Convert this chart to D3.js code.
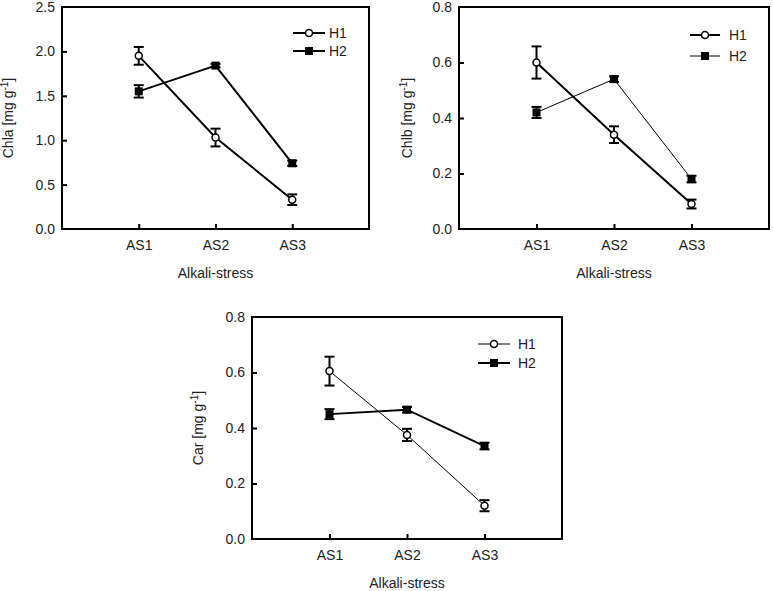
<!DOCTYPE html>
<html><head><meta charset="utf-8">
<script src="https://cdn.jsdelivr.net/npm/d3@7"></script>
<style>body{margin:0;background:#fff}svg{display:block}text{font-family:"Liberation Sans",Arial,sans-serif;fill:#222}</style>
</head><body>
<script>
const categories = ["AS1","AS2","AS3"];
const seriesNames = ["H1","H2"];
const chlaH1 = [1.95,1.03,0.33], chlaH1Err = [0.10,0.10,0.06];
const chlaH2 = [1.55,1.84,0.74], chlaH2Err = [0.07,0.02,0.03];
const chlbH1 = [0.60,0.34,0.09], chlbH1Err = [0.058,0.03,0.016];
const chlbH2 = [0.42,0.54,0.18], chlbH2Err = [0.02,0.01,0.012];
const carH1 = [0.605,0.375,0.12], carH1Err = [0.052,0.022,0.02];
const carH2 = [0.45,0.466,0.335], carH2Err = [0.018,0.01,0.012];
const ticksA = [0,0.5,1.0,1.5,2.0,2.5];
const ticksB = [0,0.2,0.4,0.6,0.8];

const svg = d3.select("body").append("svg").attr("width",773).attr("height",591);

const panels = [
  {x0:62,x1:369,y0:7,y1:229,ymax:2.5,ticks:ticksA,label:"Chla",h1:chlaH1,e1:chlaH1Err,h2:chlaH2,e2:chlaH2Err,w1:2,w2:2,yoff:49,
   leg:{lx1:-76,lx2:-44,tx:-40,yH1:26,yH2:44}},
  {x0:459,x1:769,y0:7,y1:229,ymax:0.8,ticks:ticksB,label:"Chlb",h1:chlbH1,e1:chlbH1Err,h2:chlbH2,e2:chlbH2Err,w1:2,w2:1,yoff:47,
   leg:{lx1:-79,lx2:-49,tx:-40,yH1:28,yH2:49}},
  {x0:252,x1:562,y0:317,y1:539,ymax:0.8,ticks:ticksB,label:"Car",h1:carH1,e1:carH1Err,h2:carH2,e2:carH2Err,w1:1,w2:2,yoff:49,
   leg:{lx1:-84,lx2:-52,tx:-44,yH1:27,yH2:46}}
];

panels.forEach(p=>{
  const g = svg.append("g");
  const x = d3.scaleLinear().domain([0,4]).range([p.x0,p.x1]);
  const y = d3.scaleLinear().domain([0,p.ymax]).range([p.y1,p.y0]);
  const xa = g.append("g").attr("transform",`translate(0,${p.y1})`)
    .call(d3.axisBottom(x).tickValues([1,2,3]).tickFormat((d)=>categories[d-1]).tickSizeInner(-5).tickSizeOuter(0).tickPadding(11));
  const ya = g.append("g").attr("transform",`translate(${p.x0},0)`)
    .call(d3.axisLeft(y).tickValues(p.ticks).tickFormat(d3.format(".1f")).tickSizeInner(-5).tickSizeOuter(0).tickPadding(7));
  [xa,ya].forEach(a=>{
    a.select(".domain").remove();
    a.selectAll(".tick line").attr("stroke","#000").attr("stroke-width",2);
    a.selectAll(".tick text").attr("font-size",14).attr("fill","#222").style("font-family",'"Liberation Sans",Arial,sans-serif');
  });
  ya.selectAll(".tick").filter(d=>d===0||d===p.ymax).select("line").remove();
  g.append("rect").attr("x",p.x0).attr("y",p.y0).attr("width",p.x1-p.x0).attr("height",p.y1-p.y0)
    .attr("fill","none").attr("stroke","#000").attr("stroke-width",2);
  g.append("text").attr("x",(p.x0+p.x1)/2).attr("y",p.y1+49).attr("text-anchor","middle").attr("font-size",14).text("Alkali-stress");
  const yt = g.append("text").attr("transform",`translate(${p.x0-p.yoff},${(p.y0+p.y1)/2}) rotate(-90)`)
    .attr("text-anchor","middle").attr("font-size",14);
  yt.append("tspan").text(p.label+" [mg g");
  yt.append("tspan").attr("dy",-5).attr("font-size",10).text("-1");
  yt.append("tspan").attr("dy",5).text("]");
  const series = [
    {v:p.h1,e:p.e1,w:p.w1,open:true},
    {v:p.h2,e:p.e2,w:p.w2,open:false}
  ];
  series.forEach(s=>{
    const pts = s.v.map((v,i)=>({x:i+1,v:v,e:s.e[i]}));
    g.append("path").datum(pts).attr("fill","none").attr("stroke","#000").attr("stroke-width",s.w)
      .attr("d",d3.line().x(d=>x(d.x)).y(d=>y(d.v)));
    const eb = g.selectAll(null).data(pts).enter().append("g");
    eb.append("line").attr("x1",d=>x(d.x)).attr("x2",d=>x(d.x)).attr("y1",d=>y(d.v-d.e)).attr("y2",d=>y(d.v+d.e)).attr("stroke","#000").attr("stroke-width",2);
    eb.append("line").attr("x1",d=>x(d.x)-5).attr("x2",d=>x(d.x)+5).attr("y1",d=>y(d.v-d.e)).attr("y2",d=>y(d.v-d.e)).attr("stroke","#000").attr("stroke-width",2);
    eb.append("line").attr("x1",d=>x(d.x)-5).attr("x2",d=>x(d.x)+5).attr("y1",d=>y(d.v+d.e)).attr("y2",d=>y(d.v+d.e)).attr("stroke","#000").attr("stroke-width",2);
    if(s.open){
      eb.append("circle").attr("cx",d=>x(d.x)).attr("cy",d=>y(d.v)).attr("r",3.5).attr("fill","#fff").attr("stroke","#000").attr("stroke-width",1.5);
    } else {
      eb.append("rect").attr("x",d=>x(d.x)-4).attr("y",d=>y(d.v)-4).attr("width",8).attr("height",8).attr("fill","#000");
    }
  });
  const L = p.leg;
  seriesNames.forEach((nm,i)=>{
    const ly = p.y0 + (i===0?L.yH1:L.yH2);
    const lx1 = p.x1+L.lx1, lx2 = p.x1+L.lx2, cx=(lx1+lx2)/2;
    g.append("line").attr("x1",lx1).attr("x2",lx2).attr("y1",ly).attr("y2",ly).attr("stroke","#000").attr("stroke-width",i===0?p.w1:p.w2);
    if(i===0) g.append("circle").attr("cx",cx).attr("cy",ly).attr("r",3.5).attr("fill","#fff").attr("stroke","#000").attr("stroke-width",1.5);
    else g.append("rect").attr("x",cx-4).attr("y",ly-4).attr("width",8).attr("height",8).attr("fill","#000");
    g.append("text").attr("x",p.x1+L.tx).attr("y",ly).attr("dy","0.36em").attr("font-size",14).text(nm);
  });
});
</script>
</body></html>
